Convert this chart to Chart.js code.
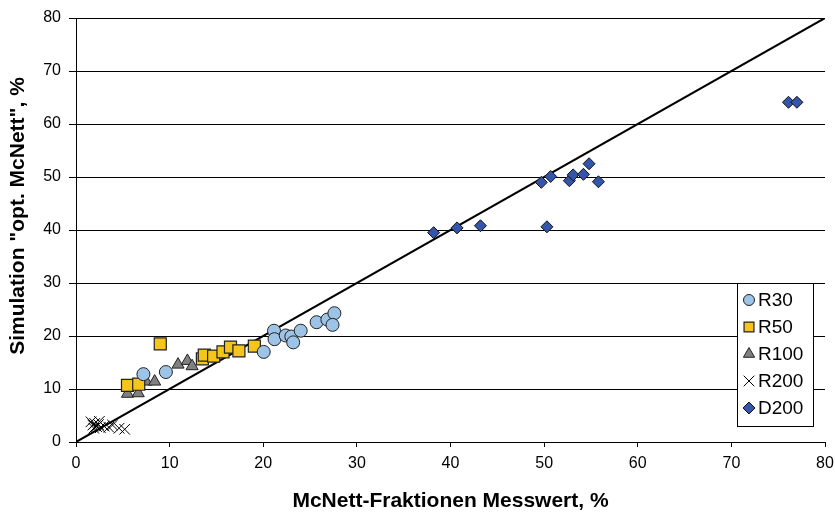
<!DOCTYPE html>
<html>
<head>
<meta charset="utf-8">
<script src="https://cdn.jsdelivr.net/npm/chart.js@4.4.1/dist/chart.umd.min.js"></script>
<style>
html,body{margin:0;padding:0;background:#fff;}
#wrap{width:835px;height:514px;}
</style>
</head>
<body>
<div id="wrap"><canvas id="chart" width="835" height="514"></canvas></div>
<script>
const r30 = [[7.2,12.8],[9.6,13.2],[20.05,17.0],[21.15,21.0],[21.2,19.4],[22.4,20.1],[23.0,19.9],
  [23.2,18.8],[24.0,21.0],[25.7,22.6],[26.85,23.1],[27.6,24.3],[27.4,22.1]]
const r50 = [[9.0,18.5],[5.5,10.7],[6.7,10.9],[13.5,15.7],[13.7,16.4],[14.7,16.2],[15.7,17.0],
  [16.5,17.9],[17.4,17.2],[19.05,18.1]]
const r100 = [[5.5,9.1],[6.65,9.2],[7.5,11.4],[8.4,11.4],[10.9,14.6],[11.9,15.3],[12.4,14.3]]
const r200 = [[1.6,3.8],[1.8,3.2],[2.0,3.5],[2.2,2.9],[2.4,3.3],[2.6,2.7],[3.0,3.0],[3.5,2.8],
  [3.9,3.2],[4.6,2.6],[5.2,2.4],[1.9,2.6],[2.5,3.9]]
const d200 = [[38.2,39.5],[40.7,40.4],[43.2,40.8],[49.7,49.0],[50.7,50.1],[50.3,40.6],[52.7,49.3],
  [53.1,50.4],[54.2,50.5],[54.8,52.5],[55.8,49.1],[76.1,64.1],[77.0,64.1]]
const diagonal = [[0,0],[80,80]]
const xTicks = [0,10,20,30,40,50,60,70,80]
const yTicks = [0,10,20,30,40,50,60,70,80]
const seriesNames = ['R30','R50','R100','R200','D200']
const xTitle = 'McNett-Fraktionen Messwert, %'
const yTitle = 'Simulation "opt. McNett", %'

const pts = arr => arr.map(p => ({x:p[0], y:p[1]}))
const FONT = "'Liberation Sans', Arial, sans-serif"

const styles = [
  {pointStyle:'circle', radius:6.5, legendR:5.5, bg:'#9dc3e6', border:'#222', bw:1},
  {pointStyle:'rect', radius:8.5, legendR:7, bg:'#f5c51c', border:'#222', bw:1.2},
  {pointStyle:'triangle', radius:7, legendR:6.5, bg:'#808080', border:'#222', bw:1},
  {pointStyle:'crossRot', radius:7.5, legendR:7.5, bg:'#000', border:'#000', bw:1},
  {pointStyle:'rectRot', radius:6, legendR:6, bg:'#3355aa', border:'#111', bw:1}
]
const seriesData = [r30, r50, r100, r200, d200]

const datasets = seriesData.map((d,i) => ({
  label: seriesNames[i],
  data: pts(d),
  showLine: false,
  pointStyle: styles[i].pointStyle,
  pointRadius: styles[i].radius,
  pointBackgroundColor: styles[i].bg,
  pointBorderColor: styles[i].border,
  pointBorderWidth: styles[i].bw,
  pointHoverRadius: styles[i].radius
}))
datasets.push({
  label: 'diag',
  data: pts(diagonal),
  showLine: true,
  borderColor: '#000',
  borderWidth: 2,
  pointRadius: 0,
  pointHoverRadius: 0
})

function drawMarker(ctx, st, x, y, r){
  ctx.save()
  ctx.fillStyle = st.bg
  ctx.strokeStyle = st.border
  ctx.lineWidth = st.bw
  if (Chart.helpers && Chart.helpers.drawPoint) {
    Chart.helpers.drawPoint(ctx, {pointStyle:st.pointStyle, radius:r, rotation:0, borderWidth:st.bw}, x, y)
  }
  ctx.restore()
}

// legend box sits inside the plot, bottom right
const boxLegend = {
  id:'boxLegend',
  afterDraw(chart){
    const ctx = chart.ctx
    const a = chart.chartArea
    const bx = a.right - 88, by = a.bottom - 159, bw = 76, bh = 143
    ctx.save()
    ctx.fillStyle = '#fff'
    ctx.fillRect(bx, by, bw, bh)
    ctx.strokeStyle = '#000'
    ctx.lineWidth = 1
    ctx.strokeRect(bx+0.5, by+0.5, bw, bh)
    ctx.font = '19px ' + FONT
    ctx.textBaseline = 'middle'
    ctx.textAlign = 'left'
    seriesNames.forEach((n,i) => {
      const yy = by + 17 + i*27
      drawMarker(ctx, styles[i], bx + 12, yy, styles[i].legendR)
      ctx.fillStyle = '#000'
      ctx.fillText(n, bx + 21, yy + 1)
    })
    ctx.restore()

    // y title, placed like the original (not centred on the axis)
    ctx.save()
    ctx.translate(18, 216)
    ctx.rotate(-Math.PI/2)
    ctx.font = 'bold 21px ' + FONT
    ctx.fillStyle = '#000'
    ctx.textAlign = 'center'
    ctx.textBaseline = 'middle'
    ctx.fillText(yTitle, 0, 0)
    ctx.restore()
  }
}

new Chart(document.getElementById('chart'), {
  type:'scatter',
  data:{datasets:datasets},
  plugins:[boxLegend],
  options:{
    responsive:false,
    animation:false,
    events:[],
    layout:{padding:{left:0, right:10, top:18, bottom:0}},
    plugins:{legend:{display:false}, tooltip:{enabled:false}},
    scales:{
      x:{
        type:'linear', min:0, max:80,
        afterBuildTicks: s => { s.ticks = xTicks.map(v => ({value:v})) },
        afterFit: s => { s.height = 72; s.paddingRight = 0; s.paddingLeft = 0 },
        grid:{display:true, drawOnChartArea:false, drawTicks:true, tickLength:5, color:'#000'},
        border:{display:true, color:'#000', width:1},
        ticks:{color:'#000', font:{family:FONT, size:16}, padding:7, maxRotation:0},
        title:{display:true, text:xTitle, color:'#000',
          font:{family:FONT, size:21, weight:'bold'}, padding:{top:4, bottom:0}}
      },
      y:{
        type:'linear', min:0, max:80,
        afterBuildTicks: s => { s.ticks = yTicks.map(v => ({value:v})) },
        afterFit: s => { s.width = 76; s.paddingTop = 0 },
        grid:{display:true, drawTicks:true, tickLength:7, color:'#000', lineWidth:1},
        border:{display:true, color:'#000', width:1},
        ticks:{color:'#000', font:{family:FONT, size:16}, padding:8},
        title:{display:false}
      }
    }
  }
})
</script>
</body>
</html>
